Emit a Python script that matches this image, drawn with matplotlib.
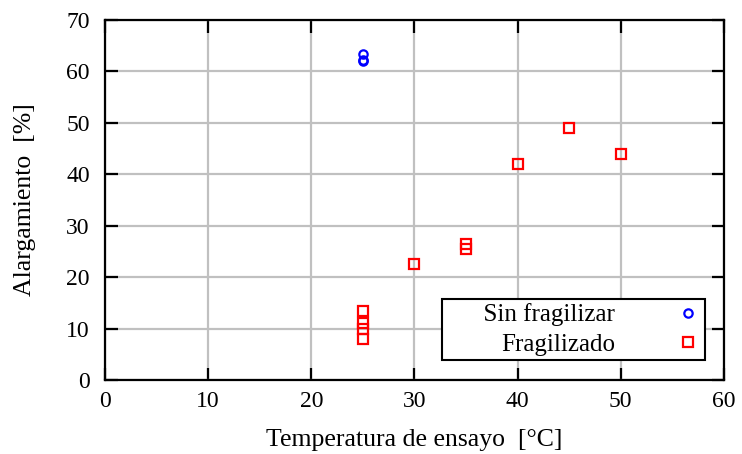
import numpy as np
import matplotlib.pyplot as plt

# data
x_sin = [25, 25, 25]
y_sin = [63.4, 62.3, 62.0]
x_frag = [25, 25, 25, 25, 30, 35, 35, 40, 45, 50]
y_frag = [13.5, 11.0, 10.0, 8.0, 22.5, 26.5, 25.5, 42.0, 49.0, 44.0]

x_ticks = np.arange(0, 61, 10)
y_ticks = np.arange(0, 71, 10)

plt.rcParams['font.family'] = ['Liberation Serif', 'DejaVu Serif']

fig = plt.figure(figsize=(7.42, 4.54), dpi=100)
ax = fig.add_axes([0.1415, 0.163, 0.8342, 0.793])

ax.plot(x_sin, y_sin, 'o', mfc='none', mec='blue', ms=6, mew=1.6, label='Sin fragilizar')
ax.plot(x_frag, y_frag, 's', mfc='none', mec='red', ms=7, mew=1.6, label='Fragilizado')

ax.set_xlim(0, 60)
ax.set_ylim(0, 70)
ax.set_xticks(x_ticks)
ax.set_yticks(y_ticks)
ax.grid(True, color='#c0c0c0', lw=1.6)
ax.set_axisbelow(True)
ax.tick_params(direction='in', length=9, width=1.6, top=True, right=True, labelsize=17)
ax.tick_params(axis='x', pad=8)
ax.tick_params(axis='y', pad=11)
for s in ax.spines.values():
    s.set_linewidth(1.6)

ax.set_xlabel('Temperatura de ensayo  [°C]', fontsize=18.5, labelpad=12)
ax.set_ylabel('Alargamiento  [%]', fontsize=18.5, labelpad=22)

leg = ax.legend(loc='lower right', bbox_to_anchor=(0.969, 0.0556), markerfirst=False,
                fancybox=False, framealpha=1, edgecolor='black', fontsize=18,
                handlelength=1.04, handletextpad=2.4, borderpad=0.16,
                labelspacing=0.28, borderaxespad=0)
leg.get_frame().set_linewidth(1.5)
# right-align the rows like gnuplot keys
leg._legend_handle_box.get_children()[0].align = 'right'
leg.get_texts()[0].set_text('      Sin fragilizar')

fig.savefig('out.png', dpi=100)
